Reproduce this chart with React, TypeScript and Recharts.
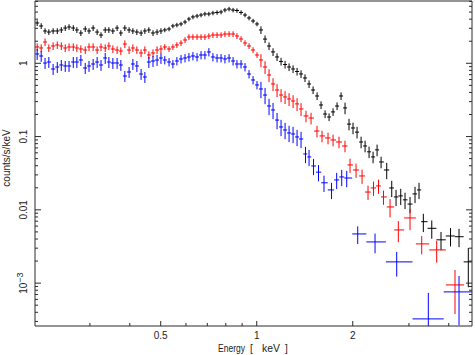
import React from 'react';
import { ScatterChart, Scatter, XAxis, YAxis, ErrorBar } from 'recharts';

const X_DOMAIN: [number, number] = [0.2018, 4.73];
const Y_DOMAIN: [number, number] = [2.6e-4, 7.08];
const FRAME = '#2a2a2a';
const FONT = '"Liberation Sans", Arial, Helvetica, sans-serif';

// axis ticks (log axes, minor ticks unlabeled)
const xTicks = [0.3, 0.4, 0.5, 0.6, 0.7, 0.8, 0.9, 1, 2, 3, 4];
const xLabeled = [0.5, 1, 2];
const yTicks = [
  3e-4, 4e-4, 5e-4, 6e-4, 7e-4, 8e-4, 9e-4,
  1e-3, 2e-3, 3e-3, 4e-3, 5e-3, 6e-3, 7e-3, 8e-3, 9e-3,
  0.01, 0.02, 0.03, 0.04, 0.05, 0.06, 0.07, 0.08, 0.09,
  0.1, 0.2, 0.3, 0.4, 0.5, 0.6, 0.7, 0.8, 0.9,
  1, 2, 3, 4, 5, 6, 7,
];
const yLabeled = [1e-3, 0.01, 0.1, 1];

// fine binning shared by all three spectra below ~1.4 keV
const denseE = [
  0.205, 0.211, 0.217, 0.223, 0.230, 0.237, 0.244, 0.251, 0.258, 0.266,
  0.273, 0.281, 0.290, 0.298, 0.307, 0.316, 0.325, 0.335, 0.344, 0.354,
  0.365, 0.375, 0.386, 0.398, 0.409, 0.421, 0.434, 0.446, 0.459, 0.473,
  0.487, 0.501, 0.515, 0.531, 0.546, 0.562, 0.579, 0.596, 0.613, 0.631,
  0.650, 0.669, 0.688, 0.708, 0.729, 0.751, 0.773, 0.795, 0.819, 0.843,
  0.867, 0.893, 0.919, 0.946, 0.974, 1.002, 1.031, 1.062, 1.093, 1.125,
  1.158, 1.192, 1.227, 1.263, 1.300, 1.338, 1.377,
];

const blackDense = [
  3.55, 3.23, 2.76, 2.67, 2.76, 2.76, 2.85, 3.03, 3.13, 3.03,
  2.85, 2.59, 2.94, 2.76, 3.03, 2.67, 2.43, 2.85, 2.85, 2.76,
  3.03, 2.59, 3.03, 2.85, 2.76, 2.67, 2.59, 2.76, 2.85, 2.59,
  2.67, 2.76, 2.85, 2.94, 3.23, 3.33, 3.44, 3.66, 4.02, 4.29,
  4.42, 4.56, 4.71, 4.71, 4.86, 4.94, 5.02, 5.33, 5.50, 5.33,
  5.25, 4.94, 4.56, 4.15, 3.78, 3.44, 2.85, 2.14, 1.72, 1.43,
  1.22, 1.06, 0.963, 0.890, 0.836, 0.773, 0.715,
];
const redDense = [
  1.669, 1.617, 1.953, 1.617, 1.722, 1.777, 1.722, 1.617, 1.669, 1.669,
  1.617, 1.567, 1.518, 1.669, 1.669, 1.518, 1.669, 1.617, 1.722, 1.567,
  1.518, 1.472, 1.834, 1.518, 1.617, 1.518, 1.382, 1.518, 1.298, 1.382,
  1.518, 1.567, 1.669, 1.567, 1.669, 1.777, 1.892, 2.079, 2.285, 2.285,
  2.285, 2.285, 2.285, 2.357, 2.433, 2.433, 2.433, 2.510, 2.510, 2.510,
  2.357, 2.145, 1.892, 1.722, 1.518, 1.298, 1.109, 0.890, 0.692, 0.522,
  0.432, 0.369, 0.347, 0.326, 0.306, 0.279, 0.238,
];
const blueDense = [
  1.339, 1.258, 1.009, 1.041, 0.836, 0.890, 0.948, 0.919, 0.919, 1.041,
  1.041, 1.109, 0.863, 0.919, 0.978, 1.041, 0.948, 1.181, 1.041, 1.009,
  1.009, 0.948, 0.671, 0.761, 0.978, 0.919, 0.714, 0.650, 1.041, 1.075,
  1.109, 1.181, 1.109, 1.041, 0.978, 1.075, 1.145, 1.181, 1.219, 1.258,
  1.219, 1.298, 1.298, 1.426, 1.219, 1.181, 1.181, 1.145, 1.181, 1.075,
  0.978, 0.978, 0.890, 0.714, 0.592, 0.506, 0.446, 0.369, 0.2615, 0.2306,
  0.168, 0.1352, 0.123, 0.112, 0.1085, 0.0988, 0.0927,
];

// relative 1-sigma error of the fine bins: [upper energy, sigma / value]
const blackBands = [[0.505, 0.09], [1.01, 0.07], [1.4, 0.12]];
const redBands = [[0.505, 0.12], [1.01, 0.09], [1.4, 0.2]];
const blueBands = [[0.505, 0.17], [1.01, 0.13], [1.4, 0.25]];

// coarser grouping above ~1.4 keV
const blackTailE = [
  1.417, 1.459, 1.502, 1.546, 1.591, 1.638, 1.686, 1.735, 1.786, 1.838,
  1.892, 1.947, 2.004, 2.063, 2.124, 2.186, 2.250, 2.316, 2.384, 2.454,
  2.556, 2.650, 2.734, 2.828, 2.917, 3.024, 3.135, 3.227, 3.329, 3.538,
  3.782, 4.051, 4.307, 4.606,
];
const blackTail = [
  0.630, 0.522, 0.432, 0.358, 0.270, 0.203, 0.185, 0.217, 0.261, 0.358,
  0.246, 0.148, 0.131, 0.115, 0.0844, 0.0744, 0.0619, 0.0527, 0.0658, 0.045,
  0.035, 0.0199, 0.0150, 0.0155, 0.0137, 0.0120, 0.0165, 0.0187, 0.0069, 0.0056,
  0.0039, 0.0044, 0.0043, 0.00195,
];
const blackTailErr = [
  0.12, 0.12, 0.12, 0.12, 0.12, 0.12, 0.12, 0.12, 0.12, 0.12,
  0.18, 0.18, 0.18, 0.18, 0.18, 0.18, 0.18, 0.18, 0.18, 0.18,
  0.25, 0.25, 0.25, 0.25, 0.25, 0.25, 0.25, 0.25, 0.28, 0.28,
  0.28, 0.28, 0.28, 0.55,
];

const redTailE = [
  1.427, 1.480, 1.545, 1.602, 1.673, 1.735, 1.811, 1.891, 1.961, 2.048,
  2.139, 2.233, 2.323, 2.409, 2.497, 2.618, 2.779, 3.024, 3.290, 3.666,
  4.184,
];
const redTail = [
  0.191, 0.179, 0.119, 0.102, 0.0957, 0.0899, 0.0844, 0.0744, 0.041, 0.035,
  0.029, 0.0175, 0.0199, 0.0212, 0.0150, 0.01095, 0.00532, 0.00775, 0.00343, 0.00284,
  0.000945,
];
const redTailErr = [
  0.18, 0.18, 0.18, 0.18, 0.18, 0.18, 0.18, 0.18, 0.22, 0.22,
  0.22, 0.22, 0.22, 0.22, 0.22, 0.28, 0.32, 0.32, 0.28, 0.33,
  0.6,
];

const blueTailE = [
  1.422, 1.459, 1.507, 1.562, 1.625, 1.716, 1.781, 1.847, 1.915, 2.073,
  2.349, 2.747, 3.451, 4.307,
];
const blueTail = [
  0.0579, 0.0527, 0.0397, 0.0327, 0.0234, 0.0187, 0.0256, 0.0281, 0.0272, 0.00469,
  0.00365, 0.00195, 0.000325, 0.000759,
];
const blueTailErr = [
  0.25, 0.25, 0.25, 0.25, 0.25, 0.25, 0.25, 0.25, 0.25, 0.27,
  0.3, 0.37, 1.26, 0.65,
];

type Pt = { e: number; c: number; ex: [number, number]; ey: [number, number] };

const bandErr = (bands: number[][], e: number) =>
  (bands.find((b) => e <= b[0]) ?? bands[bands.length - 1])[1];

// bins are contiguous, so the bin edges sit halfway (in log) between neighbours.
// bars are cut at the frame like the original plot does
function buildSeries(E: number[], C: number[], rel: number[]): Pt[] {
  return E.map((e, i) => {
    let lo = i > 0 ? Math.sqrt(E[i - 1] * e) : (e * e) / Math.sqrt(e * E[i + 1]);
    let hi = i < E.length - 1 ? Math.sqrt(e * E[i + 1]) : (e * e) / Math.sqrt(E[i - 1] * e);
    lo = Math.max(lo, X_DOMAIN[0]);
    hi = Math.min(hi, X_DOMAIN[1]);
    const c = C[i];
    const s = rel[i] * c;
    const bottom = Math.max(c - s, Y_DOMAIN[0]);
    const top = Math.min(c + s, Y_DOMAIN[1]);
    return { e, c, ex: [e - lo, hi - e], ey: [c - bottom, top - c] };
  });
}

const blackData = buildSeries(
  [...denseE, ...blackTailE],
  [...blackDense, ...blackTail],
  [...denseE.map((e) => bandErr(blackBands, e)), ...blackTailErr]
);
const redData = buildSeries(
  [...denseE, ...redTailE],
  [...redDense, ...redTail],
  [...denseE.map((e) => bandErr(redBands, e)), ...redTailErr]
);
const blueData = buildSeries(
  [...denseE, ...blueTailE],
  [...blueDense, ...blueTail],
  [...denseE.map((e) => bandErr(blueBands, e)), ...blueTailErr]
);

const series = [
  { name: 'black', color: '#000000', data: blackData },
  { name: 'red', color: '#ff0000', data: redData },
  { name: 'blue', color: '#0000ff', data: blueData },
];

const same = (a: number, b: number) => Math.abs(a - b) < 1e-9 * Math.max(a, b);

const BottomTick = (p: any) => {
  const v = p.payload.value;
  const lab = xLabeled.some((t) => same(t, v));
  return (
    <g>
      <line x1={p.x} x2={p.x} y1={p.y} y2={p.y - (lab ? 5 : 3)} stroke={FRAME} />
      {lab && (
        <text x={p.x} y={p.y + 12.5} textAnchor="middle" fontSize={10} fontFamily={FONT} fill="#222">
          {v}
        </text>
      )}
    </g>
  );
};

const TopTick = (p: any) => {
  const v = p.payload.value;
  const lab = xLabeled.some((t) => same(t, v));
  return <line x1={p.x} x2={p.x} y1={p.y} y2={p.y + (lab ? 5 : 3)} stroke={FRAME} />;
};

const LeftTick = (p: any) => {
  const v = p.payload.value;
  const lab = yLabeled.some((t) => same(t, v));
  const tx = 27.5;
  return (
    <g>
      <line x1={p.x} x2={p.x + (lab ? 6 : 3)} y1={p.y} y2={p.y} stroke={FRAME} />
      {lab && (
        <text
          x={tx}
          y={p.y}
          transform={`rotate(-90 ${tx} ${p.y})`}
          textAnchor="middle"
          fontSize={10}
          fontFamily={FONT}
          fill="#222"
        >
          {same(v, 1e-3) ? (
            <>
              <tspan>10</tspan>
              <tspan dy={-4} fontSize={9}>−3</tspan>
            </>
          ) : (
            String(v)
          )}
        </text>
      )}
    </g>
  );
};

const RightTick = (p: any) => {
  const v = p.payload.value;
  const lab = yLabeled.some((t) => same(t, v));
  return <line x1={p.x} x2={p.x - (lab ? 6 : 3)} y1={p.y} y2={p.y} stroke={FRAME} />;
};

const noDot = () => <g />;

export default function App() {
  return (
    <div style={{ position: 'absolute', left: 0, top: 0, width: 475, height: 355, background: '#fff' }}>
      <ScatterChart width={475} height={355} margin={{ top: 0, right: 0, bottom: 0, left: 0 }}>
        <XAxis
          xAxisId="b"
          dataKey="e"
          type="number"
          scale="log"
          domain={X_DOMAIN}
          allowDataOverflow
          ticks={xTicks}
          interval={0}
          tickSize={0}
          tickMargin={0}
          tickLine={false}
          tick={BottomTick}
          axisLine={{ stroke: FRAME }}
          height={29}
        />
        <XAxis
          xAxisId="t"
          orientation="top"
          type="number"
          scale="log"
          domain={X_DOMAIN}
          allowDataOverflow
          ticks={xTicks}
          interval={0}
          tickSize={0}
          tickMargin={0}
          tickLine={false}
          tick={TopTick}
          axisLine={{ stroke: FRAME }}
          height={1}
        />
        <YAxis
          yAxisId="l"
          dataKey="c"
          type="number"
          scale="log"
          domain={Y_DOMAIN}
          allowDataOverflow
          ticks={yTicks}
          interval={0}
          tickSize={0}
          tickMargin={0}
          tickLine={false}
          tick={LeftTick}
          axisLine={{ stroke: FRAME }}
          width={35}
        />
        <YAxis
          yAxisId="r"
          orientation="right"
          type="number"
          scale="log"
          domain={Y_DOMAIN}
          allowDataOverflow
          ticks={yTicks}
          interval={0}
          tickSize={0}
          tickMargin={0}
          tickLine={false}
          tick={RightTick}
          axisLine={{ stroke: FRAME }}
          width={3}
        />
        {series.map((s) => (
          <Scatter
            key={s.name}
            name={s.name}
            data={s.data}
            xAxisId="b"
            yAxisId="l"
            shape={noDot}
            isAnimationActive={false}
          >
            <ErrorBar
              direction="x"
              dataKey={(d: any) => d.ex ?? d.payload?.ex}
              width={0}
              stroke={s.color}
              strokeWidth={1}
              isAnimationActive={false}
            />
            <ErrorBar
              direction="y"
              dataKey={(d: any) => d.ey ?? d.payload?.ey}
              width={0}
              stroke={s.color}
              strokeWidth={1}
              isAnimationActive={false}
            />
          </Scatter>
        ))}
      </ScatterChart>
      <svg
        width={475}
        height={355}
        style={{ position: 'absolute', left: 0, top: 0, pointerEvents: 'none' }}
      >
        <g fontFamily={FONT} fontSize={10} fill="#222">
          <text x={218} y={352} textLength={27} lengthAdjust="spacingAndGlyphs">Energy</text>
          <text x={250} y={352}>[</text>
          <text x={262} y={352} textLength={18} lengthAdjust="spacingAndGlyphs">keV</text>
          <text x={285} y={352}>]</text>
        </g>
        <text
          x={9.5}
          y={158}
          transform="rotate(-90 9.5 158)"
          textAnchor="middle"
          fontFamily={FONT}
          fontSize={10}
          fill="#222"
        >
          counts/s/keV
        </text>
      </svg>
    </div>
  );
}
